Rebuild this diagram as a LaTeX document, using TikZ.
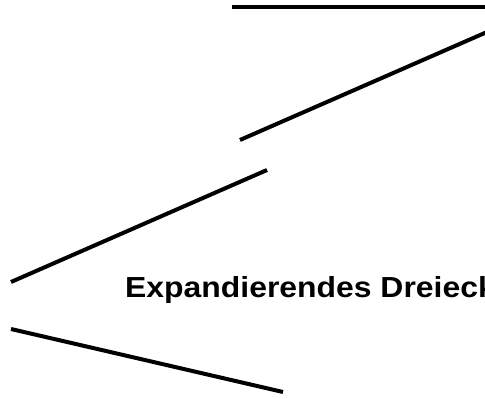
\documentclass[tikz,border=0pt]{standalone}
\usepackage{fontspec}
\setmainfont{Liberation Sans}

\begin{document}
\begin{tikzpicture}[x=1pt, y=-1pt]
        \useasboundingbox (0,0) rectangle (485,399);
        \clip (0,0) rectangle (485,399);
        \draw[line width=4.5pt] (232,7) -- (487,7);
        \draw[line width=4pt] (487,32) -- (240,140);
        \draw[line width=4pt] (267,170) -- (11,282);
        \draw[line width=4pt] (11,329) -- (283,392);
        \node[anchor=base west, inner sep=0pt, xscale=1.1] (title) at (125,297) {\fontsize{29}{33}\selectfont\bfseries Expandierendes Dreieck};
    \end{tikzpicture}
\end{document}
